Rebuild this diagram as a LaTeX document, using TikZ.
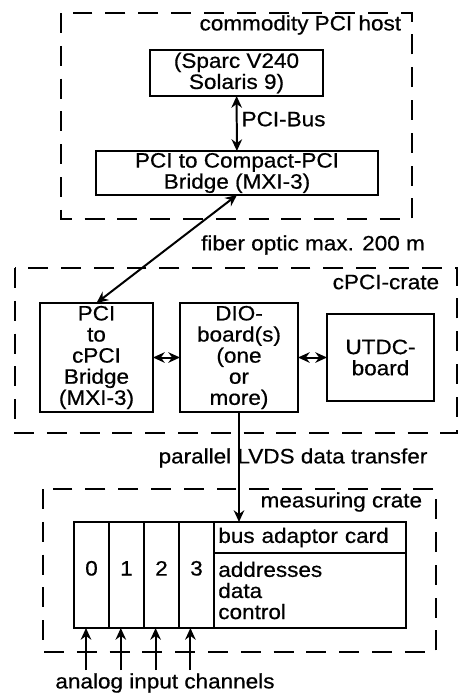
\documentclass[tikz,border=0pt]{standalone}
\usepackage{fontspec}
\setmainfont{Liberation Sans}[FakeStretch=1.08,FakeBold=0.6]
\usetikzlibrary{arrows.meta}

\begin{document}
\begin{tikzpicture}
[x=0.03cm,y=-0.03cm,>={Stealth[length=10pt,width=9pt]},line width=1.7pt,
 font=\fontsize{17.8}{18}\selectfont,
 board/.style={draw,rectangle,align=center,inner sep=1pt,outer sep=0pt},
 crate/.style={draw,dash pattern=on 17pt off 11pt},
 slot/.style={draw,rectangle,minimum width=1.05cm,minimum height=3.18cm,inner sep=0pt,outer sep=0pt}]
\useasboundingbox (0,0) rectangle (458,695);
% commodity PCI host
\draw[crate] (61,13) rectangle (412,219);
\node[anchor=east] (hostlbl) at (406,25) {commodity PCI host};
\node[board,minimum width=5.19cm,minimum height=1.38cm] (sparc) at (236.5,73) {(Sparc V240\\Solaris 9)};
\node[board,minimum width=8.46cm,minimum height=1.32cm] (bridge) at (237,173) {PCI to Compact-PCI\\Bridge (MXI-3)};
\draw[<->] (sparc) -- node[right,pos=.42] {PCI-Bus} (bridge);
% cPCI-crate
\draw[crate] (15,268) rectangle (457,433);
\node[anchor=east] (cratelbl) at (444,282) {cPCI-crate};
\node[board,minimum width=3.39cm,minimum height=3.27cm] (pcic) at (96.5,357.5) {PCI\\to\\cPCI\\Bridge\\(MXI-3)};
\node[board,minimum width=3.54cm,minimum height=3.27cm] (dio) at (239,357.5) {DIO-\\board(s)\\(one\\or\\more)};
\node[board,minimum width=3.21cm,minimum height=2.61cm] (utdc) at (380.5,357.5) {UTDC-\\board};
\draw[<->] (bridge.south) -- (pcic.north);
\node (fiberlbl) at (313,245) {fiber optic max. 200 m};
\draw[<->] (pcic) -- (dio);
\draw[<->] (dio) -- (utdc);
% measuring crate
\draw[crate] (43,489) rectangle (436,652);
\node[anchor=east] (measlbl) at (427,502) {measuring crate};
\foreach \i in {0,...,3}{
  \node[slot,label={[yshift=0.2cm]center:\i}] (ch\i) at (91.5+35*\i,575) {};
  \coordinate (in\i) at (86+34.8*\i,670);
  \draw[->] (in\i) -- (in\i |- ch\i.south);
}
\node[board,anchor=north west,minimum width=5.76cm,minimum height=0.93cm,text width=5.5cm,align=left] (bus) at (ch3.north east) {bus adaptor card};
\node[board,anchor=north west,minimum width=5.76cm,minimum height=2.25cm,text width=5.5cm,align=left] (ctrl) at (bus.south west) {addresses\\data\\control};
\draw[->] (dio.south) -- (dio.south |- bus.north);
\node (lvdslbl) at (293,458) {parallel LVDS data transfer};
\node (inlbl) at (165,683) {analog input channels};
\end{tikzpicture}
\end{document}
